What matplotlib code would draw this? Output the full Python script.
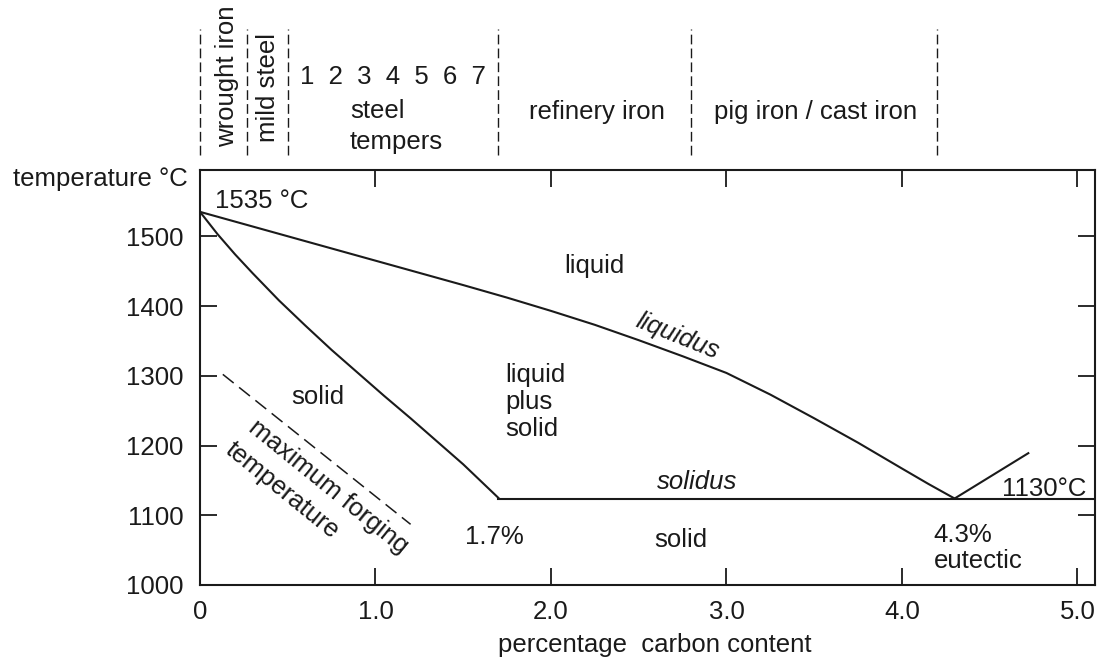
import matplotlib
matplotlib.use("Agg")
import matplotlib.pyplot as plt

# iron-carbon diagram values

liquidus_c = [0, 0.5, 1.0, 1.5, 1.75, 2.0, 2.25, 2.5, 2.75, 3.0, 3.25, 3.5,
              3.75, 4.0, 4.15, 4.3]
liquidus_t = [1535, 1500, 1465, 1430, 1412, 1393, 1373, 1351, 1328, 1304,
              1273, 1239, 1204, 1167, 1145, 1124]

solidus_c = [0, 0.05, 0.1, 0.2, 0.3, 0.45, 0.6, 0.75, 0.9, 1.05, 1.2, 1.35,
             1.5, 1.6, 1.7]
solidus_t = [1535, 1519, 1503, 1474, 1447, 1408, 1372, 1337, 1304, 1271,
             1239, 1206, 1173, 1149, 1125]

eutectic_c = [1.7, 5.1]
eutectic_t = [1124, 1124]

branch_c = [4.3, 4.72]
branch_t = [1124, 1189]

forging_c = [0.13, 1.20]
forging_t = [1302, 1087]

# product ranges shown above the frame
boundaries = [0.0, 0.27, 0.5, 1.7, 2.8, 4.2]
tempers = ["1", "2", "3", "4", "5", "6", "7"]

x_ticks = [0, 1, 2, 3, 4, 5]
x_labels = ["0", "1.0", "2.0", "3.0", "4.0", "5.0"]
y_ticks = [1000, 1100, 1200, 1300, 1400, 1500]

plt.rcParams["font.family"] = ["Liberation Sans", "DejaVu Sans"]
plt.rcParams["font.size"] = 18.5
plt.rcParams["lines.scale_dashes"] = False

fig = plt.figure(figsize=(11.03, 6.59), dpi=100)
ax = fig.add_axes([200 / 1103, 74 / 659, 895 / 1103, 415 / 659])
ax.set_xlim(0, 5.1)
ax.set_ylim(1000, 1595)

lw = 1.5
ax.plot(liquidus_c, liquidus_t, color="#1a1a1a", lw=lw)
ax.plot(solidus_c, solidus_t, color="#1a1a1a", lw=lw)
ax.plot(eutectic_c, eutectic_t, color="#1a1a1a", lw=lw)
ax.plot(branch_c, branch_t, color="#1a1a1a", lw=lw)
ax.plot(forging_c, forging_t, color="#1a1a1a", lw=1.1, dashes=(10, 5))

# dashed separators above the plot
for b in boundaries:
    ax.plot([b, b], [1617, 1797], color="#1a1a1a", lw=1.0, dashes=(7, 3),
            clip_on=False)

for s in ax.spines.values():
    s.set_linewidth(1.5)
    s.set_color("#1a1a1a")

ax.set_xticks(x_ticks)
ax.set_xticklabels(x_labels)
ax.set_yticks(y_ticks)
ax.tick_params(direction="in", length=12, width=1.3, top=True, right=True,
               colors="#1a1a1a")
ax.tick_params(axis="x", pad=11)
ax.tick_params(axis="y", pad=12)

txt = dict(color="#1a1a1a", clip_on=False)

ax.text(-0.068, 1582, "temperature °C", ha="right", va="center", **txt)
ax.text(0.508, -0.145, "percentage  carbon content", ha="center", va="center",
        transform=ax.transAxes, **txt)

ax.text(0.085, 1550, "1535 °C", ha="left", va="center", **txt)
ax.text(2.245, 1457, "liquid", ha="center", va="center", **txt)
ax.text(2.72, 1356, "liquidus", ha="center", va="center", rotation=-22,
        style="italic", **txt)
ax.text(1.74, 1262, "liquid\nplus\nsolid", ha="left", va="center",
        linespacing=1.15, **txt)
ax.text(0.67, 1270, "solid", ha="center", va="center", **txt)
ax.text(0.73, 1140, "maximum forging", ha="center", va="center",
        rotation=-39, rotation_mode="anchor", **txt)
ax.text(0.47, 1136, "temperature", ha="center", va="center",
        rotation=-39, rotation_mode="anchor", **txt)
ax.text(2.83, 1147, "solidus", ha="center", va="center", style="italic", **txt)
ax.text(1.675, 1069, "1.7%", ha="center", va="center", **txt)
ax.text(2.74, 1065, "solid", ha="center", va="center", **txt)
ax.text(4.18, 1053, "4.3%\neutectic", ha="left", va="center",
        linespacing=1.1, **txt)
ax.text(5.05, 1138, "1130°C", ha="right", va="center", **txt)

# header labels
ax.text(0.155, 1729, "wrought iron", ha="center", va="center", rotation=90, **txt)
ax.text(0.39, 1713, "mild steel", ha="center", va="center", rotation=90, **txt)
ax.text(0.57, 1728, "  ".join(tempers), ha="left", va="center", **txt)
ax.text(0.855, 1679, "steel", ha="left", va="center", **txt)
ax.text(0.855, 1635, "tempers", ha="left", va="center", **txt)
ax.text(2.26, 1678, "refinery iron", ha="center", va="center", **txt)
ax.text(3.51, 1678, "pig iron / cast iron", ha="center", va="center", **txt)

fig.savefig("out.png", dpi=100, facecolor="white")
